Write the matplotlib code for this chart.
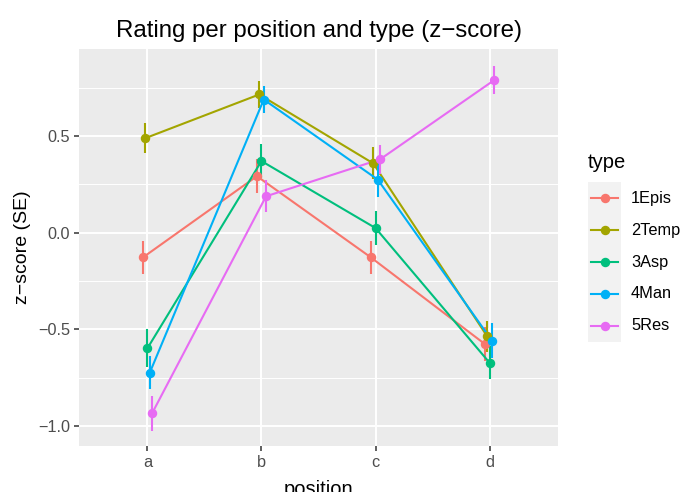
import numpy as np
import matplotlib
matplotlib.use("Agg")
import matplotlib.pyplot as plt
from matplotlib.lines import Line2D
from matplotlib.patches import Rectangle
from matplotlib.ticker import MultipleLocator

plt.rcParams['font.family'] = ['Liberation Sans', 'DejaVu Sans']

positions = ['a', 'b', 'c', 'd']
types = ['1Epis', '2Temp', '3Asp', '4Man', '5Res']
colors = ['#F8766D', '#A3A500', '#00BF7D', '#00B0F6', '#E76BF3']

mean_1Epis = [-0.128, 0.292, -0.128, -0.576]
mean_2Temp = [0.488, 0.714, 0.358, -0.536]
mean_3Asp = [-0.597, 0.370, 0.024, -0.672]
mean_4Man = [-0.724, 0.688, 0.274, -0.557]
mean_5Res = [-0.934, 0.188, 0.379, 0.788]

se_1Epis = [0.086, 0.089, 0.086, 0.088]
se_2Temp = [0.078, 0.070, 0.083, 0.080]
se_3Asp = [0.097, 0.089, 0.088, 0.086]
se_4Man = [0.086, 0.070, 0.090, 0.091]
se_5Res = [0.089, 0.082, 0.075, 0.072]

means = [mean_1Epis, mean_2Temp, mean_3Asp, mean_4Man, mean_5Res]
ses = [se_1Epis, se_2Temp, se_3Asp, se_4Man, se_5Res]

W, H = 682, 492
fig = plt.figure(figsize=(W / 100, H / 100), dpi=100)
ax = fig.add_axes([79 / W, 1 - 446 / H, (558 - 79) / W, (446 - 49) / H])
ax.set_facecolor('#EBEBEB')
for s in ax.spines.values():
    s.set_visible(False)

dodge = np.linspace(-0.04, 0.04, len(types))
xbase = np.arange(1, len(positions) + 1)
for i, (m, se, c) in enumerate(zip(means, ses, colors)):
    x = xbase + dodge[i]
    m = np.array(m)
    se = np.array(se)
    ax.vlines(x, m - se, m + se, color=c, lw=1.5, zorder=3)
    ax.plot(x, m, color=c, lw=1.5, zorder=3)
    ax.plot(x, m, 'o', color=c, ms=5.8, zorder=4)

ax.set_xlim(0.4, 4.6)
ax.set_ylim(-1.102, 0.949)
ax.set_xticks(xbase)
ax.set_xticklabels(positions)
ax.yaxis.set_major_locator(MultipleLocator(0.5))
ax.yaxis.set_minor_locator(MultipleLocator(0.25))
ax.set_yticks([-1.0, -0.5, 0.0, 0.5])
ax.set_yticklabels(['\u22121.0', '\u22120.5', '0.0', '0.5'])
ax.grid(which='major', color='white', lw=1.4, zorder=0)
ax.grid(which='minor', axis='y', color='white', lw=0.7, zorder=0)
ax.set_axisbelow(True)
ax.tick_params(which='major', length=3.5, width=1.1, color='#333333',
               labelcolor='#4D4D4D', labelsize=11.7, pad=3)
ax.tick_params(which='minor', length=0)

ax.set_xlabel('position', fontsize=14.5, labelpad=7, color='black')
ax.set_ylabel('z\u2212score (SE)', fontsize=14, labelpad=5, color='black')
ax.set_title('Rating per position and type (z\u2212score)', fontsize=17.3, pad=9)

# legend drawn manually (ggplot style)
def fx(px):
    return px / W

def fy(py):
    return 1 - py / H

fig.text(fx(588), fy(163), 'type', fontsize=14.5, va='center', ha='left')
key_top, key_h = 182, 32
fig.add_artist(Rectangle((fx(588), fy(key_top + key_h * len(types))), (621 - 588) / W,
                         key_h * len(types) / H, transform=fig.transFigure,
                         facecolor='#F2F2F2', edgecolor='none'))
for i, (t, c) in enumerate(zip(types, colors)):
    yc = key_top + key_h * i + key_h / 2
    fig.add_artist(Line2D([fx(591), fx(618)], [fy(yc), fy(yc)], color=c, lw=1.5,
                          transform=fig.transFigure))
    fig.add_artist(Line2D([fx(604.5)], [fy(yc)], marker='o', ms=5.8, color=c,
                          transform=fig.transFigure))
    fig.text(fx(631), fy(yc), t, fontsize=11.8, va='center', ha='left', color='black')

fig.savefig('out.png', dpi=100)
